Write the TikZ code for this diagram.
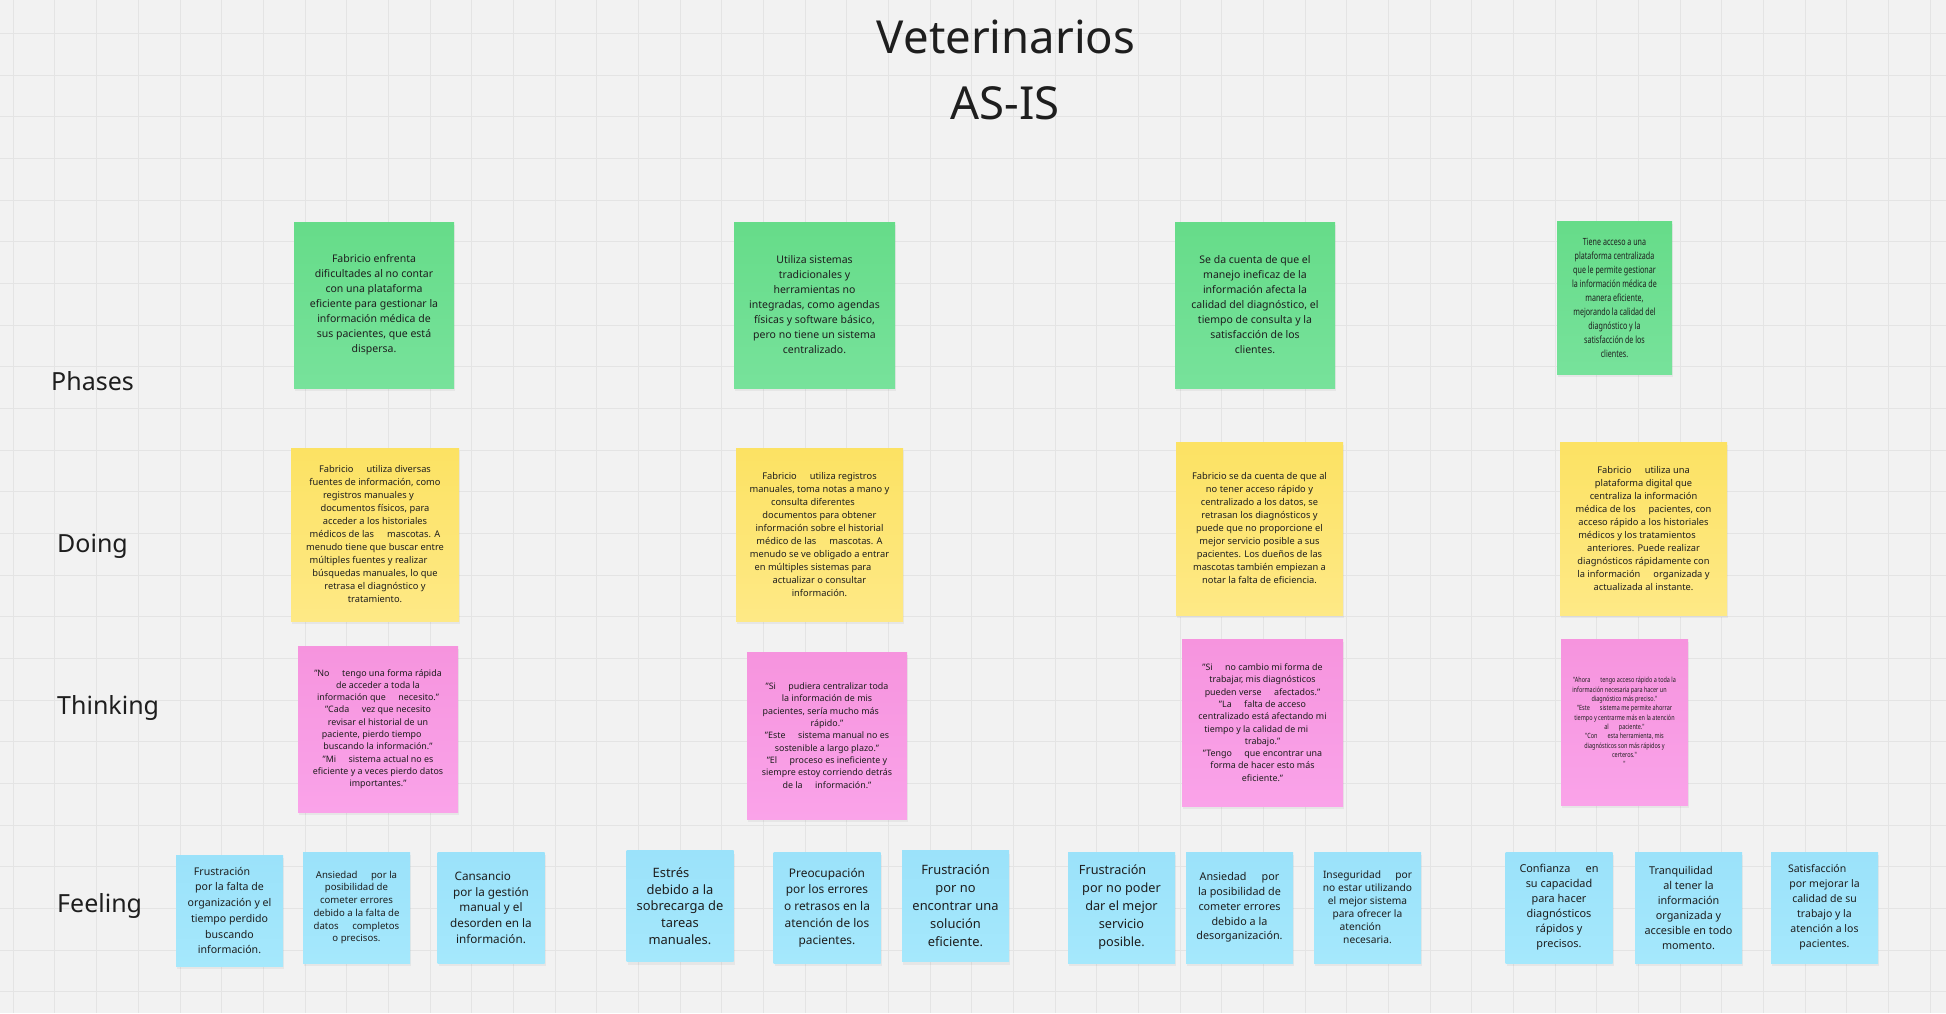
\documentclass[tikz,border=0pt]{standalone}
\usepackage{fontspec}
\setmainfont{Noto Sans}
\newfontfamily\narrowA[FakeStretch=0.72]{Noto Sans}
\newfontfamily\narrowB[FakeStretch=0.76]{Noto Sans}
\usetikzlibrary{shadows}
\definecolor{bgc}{HTML}{F2F2F2}
\definecolor{gridc}{HTML}{E4E4E4}
\definecolor{txt}{HTML}{1E1E1E}
\definecolor{gtop}{HTML}{66DC89}
\definecolor{gbot}{HTML}{77E29B}
\definecolor{ytop}{HTML}{FCE263}
\definecolor{ybot}{HTML}{FEE986}
\definecolor{ptop}{HTML}{F694DE}
\definecolor{pbot}{HTML}{FAA3E9}
\definecolor{btop}{HTML}{9BE2FA}
\definecolor{bbot}{HTML}{A5E8FC}
\newcommand\gp{\hspace{1.4em}}
\newcommand\tr{\rule{1.4em}{0pt}}
\begin{document}
\begin{tikzpicture}[x=1pt,y=-1pt,
  sticky/.style={align=center, inner sep=2pt, text=txt,
    drop shadow={shadow xshift=1pt, shadow yshift=-3pt, opacity=0.10}},
  gsticky/.style={sticky, top color=gtop, bottom color=gbot, font=\fontsize{10.5}{15}\selectfont},
  ysticky/.style={sticky, top color=ytop, bottom color=ybot, font=\fontsize{9.3}{13}\selectfont},
  psticky/.style={sticky, top color=ptop, bottom color=pbot, font=\fontsize{8.9}{12.3}\selectfont},
  bsticky/.style={sticky, top color=btop, bottom color=bbot, minimum width=107pt, minimum height=111pt},
  rowlabel/.style={anchor=west, text=txt, font=\fontsize{25}{30}\selectfont, inner sep=0pt},
  titlestyle/.style={text=txt, font=\fontsize{45.5}{54}\selectfont, inner sep=0pt}
]
\fill[bgc] (0,0) rectangle (1946,1013);
\useasboundingbox (0,0) rectangle (1946,1013);
\foreach \k in {0,...,46} \draw[gridc, line width=1pt] ({13.33+41.667*\k},0) -- ({13.33+41.667*\k},1013);
\foreach \k in {0,...,23} \draw[gridc, line width=1pt] (0,{33.33+41.667*\k}) -- (1946,{33.33+41.667*\k});

% title
\node[titlestyle] (t1) at (1006,37) {Veterinarios};
\node[titlestyle] (t2) at (1005,103) {AS-IS};

% row labels
\node[rowlabel] (lphases) at (51,381) {Phases};
\node[rowlabel] (ldoing) at (57,546) {Doing};
\node[rowlabel] (lthink) at (57,708) {Thinking};
\node[rowlabel] (lfeel) at (57,906) {Feeling};

% Phases
\node[gsticky, minimum width=160pt, minimum height=166pt] (g1) at (374,305)
 {Fabricio enfrenta\\dificultades al no contar\\con una plataforma\\eficiente para gestionar la\\información médica de\\sus pacientes, que está\\dispersa.};
\node[gsticky, minimum width=161pt, minimum height=166pt] (g2) at (814.5,305)
 {Utiliza sistemas\\tradicionales y\\herramientas no\\integradas, como agendas\\físicas y software básico,\\pero no tiene un sistema\\centralizado.};
\node[gsticky, minimum width=160pt, minimum height=166pt] (g3) at (1255,305)
 {Se da cuenta de que el\\manejo ineficaz de la\\información afecta la\\calidad del diagnóstico, el\\tiempo de consulta y la\\satisfacción de los\\clientes.};
\node[gsticky, minimum width=115pt, minimum height=153pt, font=\narrowA\fontsize{9.9}{14}\selectfont] (g4) at (1614.5,297.5)
 {Tiene acceso a una\\plataforma centralizada\\que le permite gestionar\\la información médica de\\manera eficiente,\\mejorando la calidad del\\diagnóstico y la\\satisfacción de los\\clientes.};

% Doing
\node[ysticky, minimum width=168pt, minimum height=173pt] (y1) at (375,534.5)
 {Fabricio\gp utiliza diversas\\fuentes de información, como\\registros manuales y\tr\\documentos físicos, para\\acceder a los historiales\\médicos de las\gp mascotas. A\\menudo tiene que buscar entre\\múltiples fuentes y realizar\tr\\búsquedas manuales, lo que\\retrasa el diagnóstico y\\tratamiento.};
\node[ysticky, minimum width=167pt, minimum height=173pt] (y2) at (819.5,534.5)
 {Fabricio\gp utiliza registros\\manuales, toma notas a mano y\\consulta diferentes\tr\\documentos para obtener\\información sobre el historial\\médico de las\gp mascotas. A\\menudo se ve obligado a entrar\\en múltiples sistemas para\tr\\actualizar o consultar\\información.};
\node[ysticky, minimum width=167pt, minimum height=173pt] (y3) at (1259.5,528.5)
 {Fabricio se da cuenta de que al\\no tener acceso rápido y\\centralizado a los datos, se\\retrasan los diagnósticos y\\puede que no proporcione el\\mejor servicio posible a sus\\pacientes. Los dueños de las\\mascotas también empiezan a\\notar la falta de eficiencia.};
\node[ysticky, minimum width=167pt, minimum height=173pt] (y4) at (1643.5,528.5)
 {Fabricio\gp utiliza una\\plataforma digital que\\centraliza la información\\médica de los\gp pacientes, con\\acceso rápido a los historiales\\médicos y los tratamientos\tr\\anteriores. Puede realizar\\diagnósticos rápidamente con\\la información\gp organizada y\\actualizada al instante.};

% Thinking
\node[psticky, minimum width=160pt, minimum height=166pt] (p1) at (378,729)
 {"No\gp tengo una forma rápida\\de acceder a toda la\\información que\gp necesito."\\"Cada\gp vez que necesito\\revisar el historial de un\\paciente, pierdo tiempo\tr\\buscando la información."\\"Mi\gp sistema actual no es\\eficiente y a veces pierdo datos\\importantes."};
\node[psticky, minimum width=160pt, minimum height=167pt] (p2) at (827,735.5)
 {"Si\gp pudiera centralizar toda\\la información de mis\\pacientes, sería mucho más\tr\\rápido."\\"Este\gp sistema manual no es\\sostenible a largo plazo."\\"El\gp proceso es ineficiente y\\siempre estoy corriendo detrás\\de la\gp información."};
\node[psticky, minimum width=161pt, minimum height=167pt] (p3) at (1262.5,722.5)
 {"Si\gp no cambio mi forma de\\trabajar, mis diagnósticos\\pueden verse\gp afectados."\\"La\gp falta de acceso\\centralizado está afectando mi\\tiempo y la calidad de mi\tr\\trabajo."\\"Tengo\gp que encontrar una\\forma de hacer esto más\\eficiente."};
\node[psticky, minimum width=127pt, minimum height=166pt, font=\narrowB\fontsize{7.2}{9.3}\selectfont] (p4) at (1624.5,722)
 {"Ahora\gp tengo acceso rápido a toda la\\información necesaria para hacer un\tr\\diagnóstico más preciso."\\"Este\gp sistema me permite ahorrar\\tiempo y centrarme más en la atención\\al\gp paciente."\\"Con\gp esta herramienta, mis\\diagnósticos son más rápidos y\\certeros."\\"};

% Feeling
\node[bsticky, font=\fontsize{10.6}{15.7}\selectfont] (b1) at (229.5,910.5)
 {Frustración\tr\\por la falta de\\organización y el\\tiempo perdido\\buscando\\información.};
\node[bsticky, font=\fontsize{9.6}{12.7}\selectfont] (b2) at (356.5,907.5)
 {Ansiedad\gp por la\\posibilidad de\\cometer errores\\debido a la falta de\\datos\gp completos\\o precisos.};
\node[bsticky, font=\fontsize{11.7}{15.7}\selectfont] (b3) at (491,907.5)
 {Cansancio\tr\\por la gestión\\manual y el\\desorden en la\\información.};
\node[bsticky, font=\fontsize{12.9}{16.7}\selectfont] (b4) at (680,906)
 {Estrés\tr\\debido a la\\sobrecarga de\\tareas\\manuales.};
\node[bsticky, font=\fontsize{11.9}{16.7}\selectfont] (b5) at (827,907.5)
 {Preocupación\\por los errores\\o retrasos en la\\atención de los\\pacientes.};
\node[bsticky, font=\fontsize{12.9}{18}\selectfont] (b6) at (955.5,906)
 {Frustración\\por no\\encontrar una\\solución\\eficiente.};
\node[bsticky, font=\fontsize{12.7}{18}\selectfont] (b7) at (1121.5,907.5)
 {Frustración\tr\\por no poder\\dar el mejor\\servicio\\posible.};
\node[bsticky, font=\fontsize{10.8}{14.7}\selectfont] (b8) at (1239.5,907.5)
 {Ansiedad\gp por\\la posibilidad de\\cometer errores\\debido a la\\desorganización.};
\node[bsticky, font=\fontsize{10.2}{13}\selectfont] (b9) at (1367.5,907.5)
 {Inseguridad\gp por\\no estar utilizando\\el mejor sistema\\para ofrecer la\\atención\tr\\necesaria.};
\node[bsticky, font=\fontsize{10.9}{15}\selectfont] (b10) at (1559,907.5)
 {Confianza\gp en\\su capacidad\\para hacer\\diagnósticos\\rápidos y\\precisos.};
\node[bsticky, font=\fontsize{10.8}{15}\selectfont] (b11) at (1688.5,907.5)
 {Tranquilidad\tr\\al tener la\\información\\organizada y\\accesible en todo\\momento.};
\node[bsticky, font=\fontsize{10.5}{15}\selectfont] (b12) at (1824.5,907.5)
 {Satisfacción\tr\\por mejorar la\\calidad de su\\trabajo y la\\atención a los\\pacientes.};
\end{tikzpicture}
\end{document}
